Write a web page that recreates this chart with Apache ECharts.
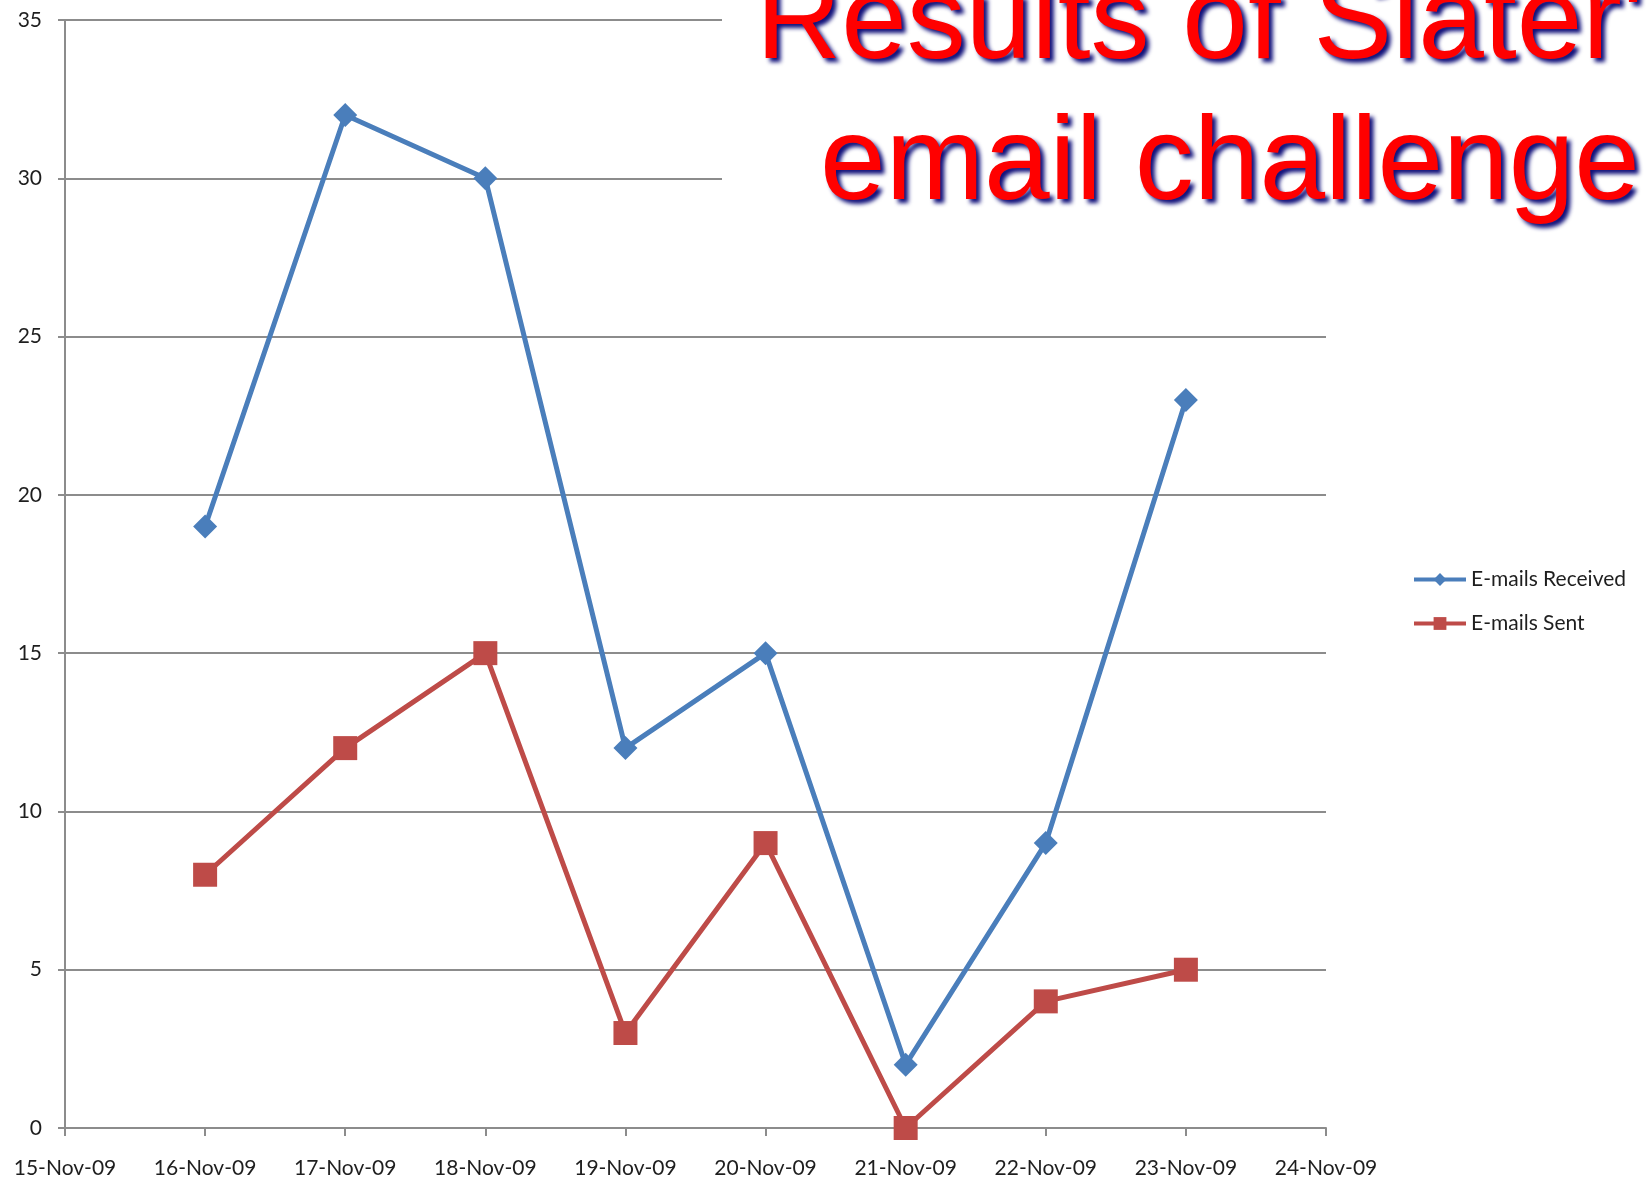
<!DOCTYPE html>
<html>
<head>
<meta charset="utf-8">
<title>Results of Slater's email challenge</title>
<script src="https://cdn.jsdelivr.net/npm/echarts@6/dist/echarts.min.js"></script>
<style>
  html, body { margin: 0; padding: 0; background: #fff; }
  #main { width: 1647px; height: 1180px; }
</style>
</head>
<body>
<div id="main"></div>
<script>
// x axis categories (Excel date axis, one tick per day)
const days = ['15-Nov-09', '16-Nov-09', '17-Nov-09', '18-Nov-09', '19-Nov-09',
              '20-Nov-09', '21-Nov-09', '22-Nov-09', '23-Nov-09', '24-Nov-09'];

// series values, no data on first and last day
const received = [null, 19, 32, 30, 12, 15, 2, 9, 23, null];
const sent     = [null, 8, 12, 15, 3, 9, 0, 4, 5, null];

const titleLines = ["Results of Slater's", 'email challenge'];

const BLUE = '#4a7ebb';
const RED = '#be4b48';
const GRID_GRAY = '#8c8c8c';
const LABEL_FONT = 'Lato';
const LABEL_COLOR = '#1e1e1e';

const chart = echarts.init(document.getElementById('main'));

// title text style, shared by both lines
function titleText(text, x, y) {
  return {
    type: 'text',
    z: 51,
    style: {
      text: text,
      x: x,
      y: y,
      font: '118px "Liberation Sans"',
      fill: '#ff0000',
      textShadowColor: '#10107a',
      textShadowOffsetX: 4,
      textShadowOffsetY: 4,
      textShadowBlur: 4
    }
  };
}

chart.setOption({
  backgroundColor: '#fff',
  animation: false,
  grid: { left: 65, right: 321, top: 20, bottom: 52 },
  legend: {
    orient: 'vertical',
    left: 1412,
    top: 569,
    itemWidth: 52,
    itemHeight: 16,
    itemGap: 23,
    padding: 0,
    lineStyle: { width: 4 },
    textStyle: { fontFamily: LABEL_FONT, fontSize: 21, color: LABEL_COLOR },
    data: ['E-mails Received', 'E-mails Sent']
  },
  xAxis: {
    type: 'category',
    data: days,
    boundaryGap: false,
    axisLine: { lineStyle: { color: GRID_GRAY, width: 2 } },
    axisTick: { show: true, length: 8, lineStyle: { color: GRID_GRAY, width: 2 } },
    axisLabel: {
      interval: 0,
      margin: 30,
      fontFamily: LABEL_FONT,
      fontSize: 21,
      color: LABEL_COLOR
    },
    splitLine: { show: false }
  },
  yAxis: {
    type: 'value',
    min: 0,
    max: 35,
    interval: 5,
    axisLine: { show: true, lineStyle: { color: GRID_GRAY, width: 2 } },
    axisTick: { show: true, length: 7, lineStyle: { color: GRID_GRAY, width: 2 } },
    axisLabel: {
      margin: 23,
      fontFamily: LABEL_FONT,
      fontSize: 21,
      color: LABEL_COLOR
    },
    splitLine: { lineStyle: { color: GRID_GRAY, width: 2 } }
  },
  series: [
    {
      name: 'E-mails Received',
      type: 'line',
      data: received,
      symbol: 'diamond',
      symbolSize: 24,
      itemStyle: { color: BLUE },
      lineStyle: { color: BLUE, width: 5 },
      z: 3
    },
    {
      name: 'E-mails Sent',
      type: 'line',
      data: sent,
      symbol: 'rect',
      symbolSize: 24,
      itemStyle: { color: RED },
      lineStyle: { color: RED, width: 5 },
      z: 2
    }
  ],
  // slide title sits on a white box over the top grid lines
  graphic: [
    {
      type: 'rect',
      z: 50,
      shape: { x: 722, y: 0, width: 925, height: 235 },
      style: { fill: '#fff' }
    },
    titleText(titleLines[0], 756, -34),
    titleText(titleLines[1], 820, 107)
  ]
});
</script>
</body>
</html>
